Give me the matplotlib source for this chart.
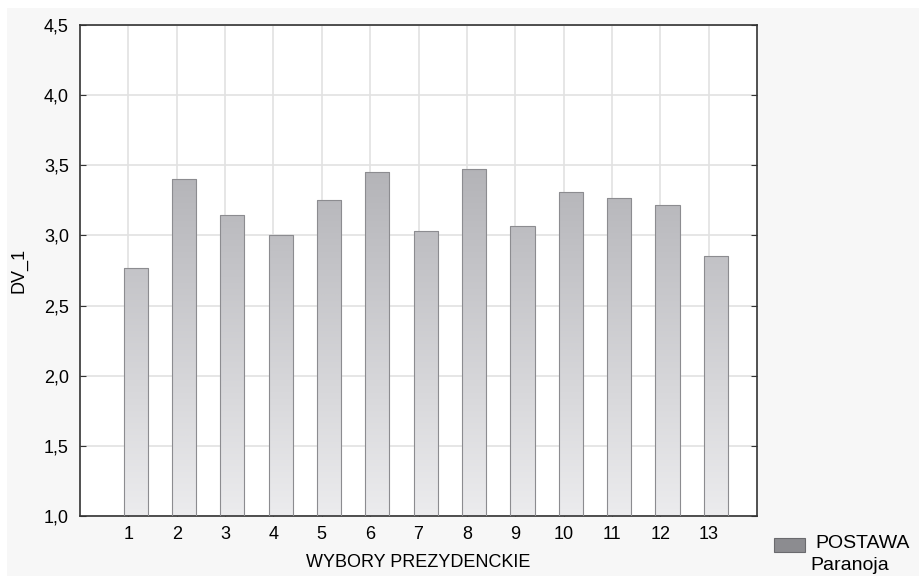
import numpy as np
import matplotlib.pyplot as plt
from matplotlib.patches import Rectangle
from matplotlib.colors import LinearSegmentedColormap

plt.rcParams['font.family'] = ['Liberation Sans', 'DejaVu Sans']

# dane
kategorie = np.arange(1, 14)
wartosci = [2.77, 3.40, 3.145, 3.005, 3.255, 3.455, 3.035, 3.47, 3.07, 3.31, 3.27, 3.22, 2.855]
yticks = [1.0, 1.5, 2.0, 2.5, 3.0, 3.5, 4.0, 4.5]
ytick_labels = ['1,0', '1,5', '2,0', '2,5', '3,0', '3,5', '4,0', '4,5']

fig = plt.figure(figsize=(9.19, 5.76), dpi=100, facecolor='white')
# szare tlo z cienkim bialym marginesem (lewo, gora)
fig.patches.append(Rectangle((7 / 919, 0), 1, 1 - 8 / 576, transform=fig.transFigure,
                             facecolor='#f7f7f7', edgecolor='none', zorder=-10))

ax = fig.add_axes([80 / 919, 60 / 576, 677 / 919, 491 / 576])
ax.set_facecolor('white')

# gradient: ciemniejszy u gory, jasniejszy u dolu
cmap = LinearSegmentedColormap.from_list('szary', ['#ececee', '#c4c4c8', '#9c9ca0'])
grad = np.linspace(0, 1, 256).reshape(-1, 1)

bars = ax.bar(kategorie - 0.1, wartosci, width=0.5, bottom=0, align='edge',
              facecolor='none', edgecolor='#8c8c90', linewidth=0.8, zorder=3)
for b in bars:
    x0 = b.get_x()
    im = ax.imshow(grad, cmap=cmap, origin='lower', aspect='auto',
                   extent=(x0, x0 + b.get_width(), 1.0, 4.5), zorder=2,
                   interpolation='bicubic')
    im.set_clip_path(b)

ax.set_xlim(0, 14)
ax.set_ylim(1.0, 4.5)
ax.set_xticks(kategorie)
ax.set_xticklabels([str(k) for k in kategorie], fontsize=13)
ax.set_yticks(yticks)
ax.set_yticklabels(ytick_labels, fontsize=13)
ax.tick_params(axis='x', direction='in', length=4, color='#333333', pad=7)
ax.tick_params(axis='y', direction='in', length=4, color='#333333', right=True, pad=8)
ax.grid(True, color='#e2e2e2', linewidth=1.2, zorder=0)
ax.set_axisbelow(True)
for s in ax.spines.values():
    s.set_color('#333333')
    s.set_linewidth(1.2)

ax.set_xlabel('WYBORY PREZYDENCKIE', fontsize=13, labelpad=8)
ax.set_ylabel('DV_1', fontsize=13, labelpad=12)

# legenda
fig.patches.append(Rectangle((774 / 919, 1 - 552 / 576), 31 / 919, 14 / 576,
                             transform=fig.transFigure, facecolor='#8c8c90',
                             edgecolor='#6a6a6e', linewidth=0.8))
fig.text(815 / 919, 1 - 544 / 576, 'POSTAWA', fontsize=14, va='center', ha='left')
fig.text(810 / 919, 1 - 566 / 576, 'Paranoja', fontsize=14, va='center', ha='left')

fig.savefig('out.png', dpi=100, facecolor=fig.get_facecolor())
